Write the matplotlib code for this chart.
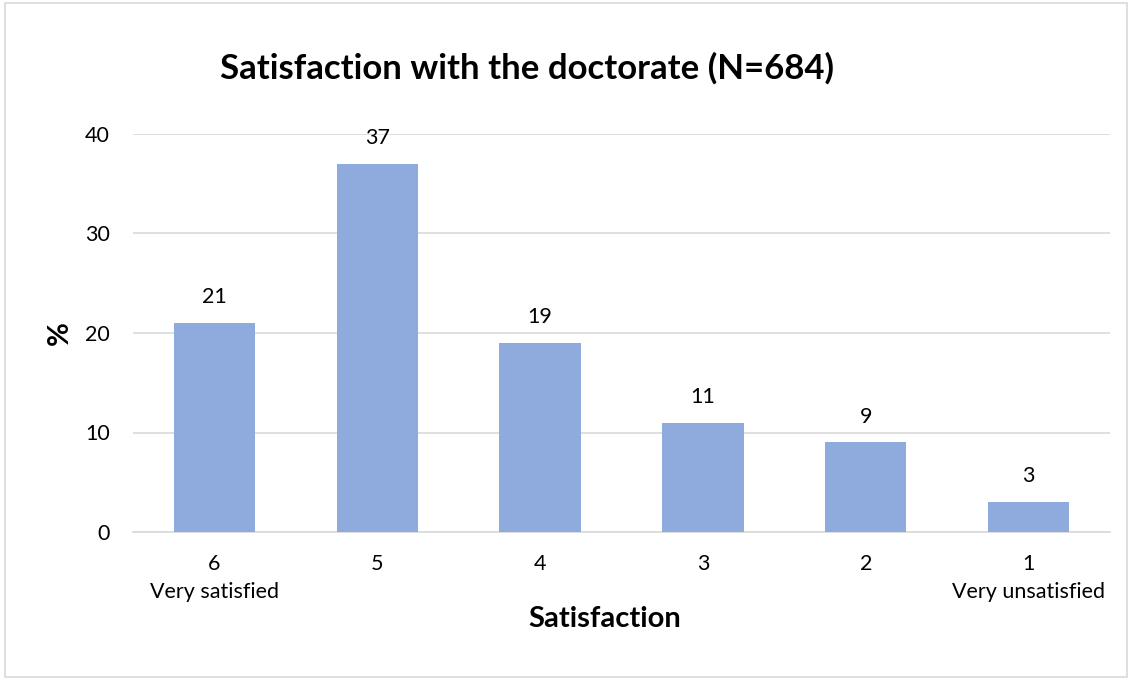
import matplotlib
matplotlib.use("Agg")
import matplotlib.pyplot as plt
from matplotlib.patches import Rectangle

categories = ["6\nVery satisfied", "5", "4", "3", "2", "1\nVery unsatisfied"]
values = [21, 37, 19, 11, 9, 3]
yticks = [0, 10, 20, 30, 40]
title = "Satisfaction with the doctorate (N=684)"
xlabel = "Satisfaction"
ylabel = "%"

plt.rcParams['font.family'] = ['Lato', 'DejaVu Sans']

fig = plt.figure(figsize=(11.32, 6.8), dpi=100)
ax = fig.add_axes([133/1132, 1-532/680, (1110-133)/1132, (532-134)/680])

x = list(range(len(values)))
bars = ax.bar(x, values, width=0.5, color="#8FAADC", zorder=3)
for xi, v in zip(x, values):
    ax.annotate(str(v), (xi, v), xytext=(0, 18.5), textcoords="offset points",
                ha="center", va="center", fontsize=15.5, color="#000000")

ax.set_xlim(-0.5, len(values)-0.5)
ax.set_ylim(0, 40)
ax.set_yticks(yticks)
ax.set_yticklabels([str(t) for t in yticks], fontsize=15.5)
ax.set_xticks(x)
ax.set_xticklabels(categories, fontsize=15.5, linespacing=1.5, va="top")
ax.tick_params(axis="both", length=0)
ax.tick_params(axis="y", pad=16.5)
ax.tick_params(axis="x", pad=15.5)
ax.grid(axis="y", color="#D9D9D9", linewidth=1.2, zorder=0)
for s in ["top", "right", "left"]:
    ax.spines[s].set_visible(False)
ax.spines["bottom"].set_color("#D9D9D9")
ax.spines["bottom"].set_linewidth(1.2)

fig.text(527/1132, 1-68/680, title, ha="center", va="center", fontsize=25, fontweight="bold")
fig.text(605/1132, 1-619/680, xlabel, ha="center", va="center", fontsize=21, fontweight="bold")
fig.text(60/1132, 1-333/680, ylabel, ha="center", va="center", fontsize=21, fontweight="bold", rotation=90)

fig.patches.append(Rectangle((5/1132, 3/680), 1122/1132, 674/680, transform=fig.transFigure,
                             fill=False, edgecolor="#D9D9D9", linewidth=1.2))

fig.savefig("out.png", dpi=100)
